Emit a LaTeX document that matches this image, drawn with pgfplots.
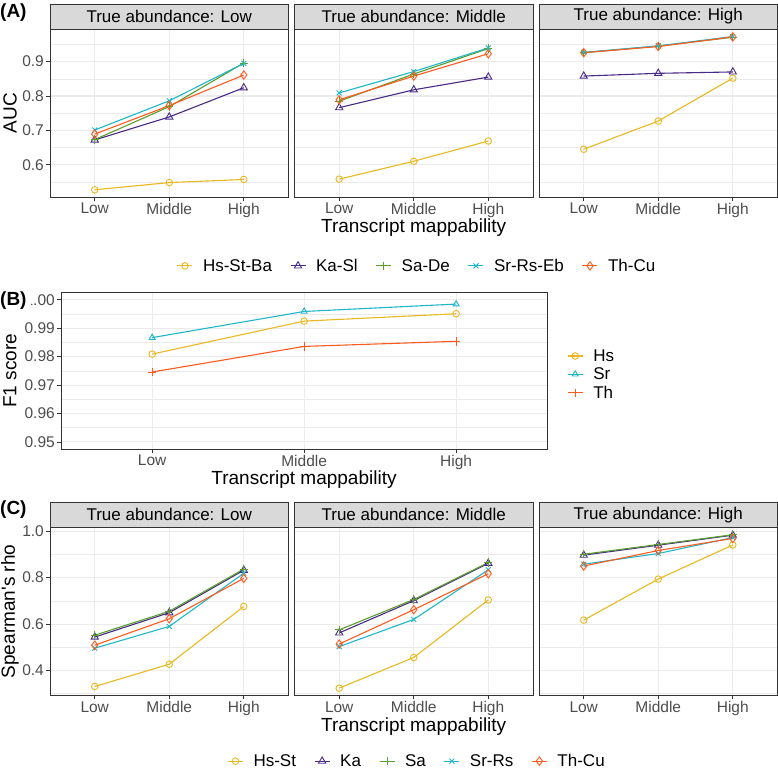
\documentclass[border=0pt]{standalone}
\usepackage{fontspec}
\setmainfont{Liberation Sans}[Ligatures=TeXOff]
\usepackage{pgfplots}
\usepackage{pgfplotstable}
\pgfplotsset{compat=1.18}

\definecolor{cHs}{HTML}{E8B820}
\definecolor{cKa}{HTML}{472A85}
\definecolor{cSa}{HTML}{5C9E2E}
\definecolor{cSr}{HTML}{1FB6C8}
\definecolor{cTh}{HTML}{FF5A1E}
\definecolor{c20}{HTML}{333333}
\definecolor{c30}{HTML}{4D4D4D}
\definecolor{gridc}{HTML}{EBEBEB}
\definecolor{stripc}{HTML}{D9D9D9}

% AUC, panel (A)
\pgfplotstableread{
x Hs Ka Sa Sr Th
1 0.527 0.672 0.673 0.701 0.689
2 0.548 0.739 0.769 0.786 0.772
3 0.557 0.824 0.896 0.895 0.861
}\aucLow
\pgfplotstableread{
x Hs Ka Sa Sr Th
1 0.558 0.766 0.785 0.809 0.789
2 0.610 0.818 0.864 0.871 0.858
3 0.669 0.855 0.938 0.940 0.923
}\aucMid
\pgfplotstableread{
x Hs Ka Sa Sr Th
1 0.645 0.858 0.926 0.927 0.926
2 0.727 0.866 0.945 0.946 0.944
3 0.852 0.870 0.971 0.973 0.972
}\aucHigh
% F1, panel (B)
\pgfplotstableread{
x Hs Sr Th
1 0.9809 0.9867 0.9746
2 0.9925 0.9959 0.9836
3 0.9951 0.9985 0.9854
}\fone
% Spearman, panel (C)
\pgfplotstableread{
x Hs Ka Sa Sr Th
1 0.331 0.544 0.552 0.496 0.509
2 0.427 0.649 0.655 0.590 0.623
3 0.676 0.832 0.837 0.819 0.797
}\rhoLow
\pgfplotstableread{
x Hs Ka Sa Sr Th
1 0.324 0.562 0.575 0.503 0.514
2 0.456 0.701 0.706 0.620 0.662
3 0.704 0.862 0.865 0.834 0.817
}\rhoMid
\pgfplotstableread{
x Hs Ka Sa Sr Th
1 0.617 0.897 0.901 0.858 0.850
2 0.794 0.940 0.943 0.904 0.917
3 0.941 0.983 0.985 0.973 0.969
}\rhoHigh

\pgfplotsset{
  panel/.style={
    scale only axis, xmin=0.4, xmax=3.6,
    xtick={1,2,3}, xticklabels={Low,Middle,High},
    tick pos=left, tick align=outside, major tick length=4pt,
    minor tick length=0pt,
    axis line style={draw=c20, line width=0.8pt},
    tick style={draw=c20, line width=0.8pt},
    xmajorgrids, ymajorgrids, yminorgrids,
    major grid style={draw=gridc, line width=1.1pt},
    minor grid style={draw=gridc, line width=0.55pt},
    tick label style={font=\fontsize{15.5}{18}\selectfont, text=c30, inner sep=2pt},
    /pgf/number format/assume math mode=true,
    legend image code/.code={\draw[mark repeat=2,mark phase=2]
      plot coordinates {(0pt,0pt) (7.5pt,0pt) (15pt,0pt)};},
    legend cell align=left,
  },
  facet/.style={panel, width=238.5pt, height=168pt},
  inner/.style={yticklabels={}, every major y tick/.append style={draw=none}},
  rowlegend/.style={legend style={draw=none, fill=none, inner sep=0pt,
    font=\fontsize{17}{20}\selectfont, legend columns=5,
    nodes={inner sep=2pt},
    /tikz/every odd column/.append style={column sep=8pt},
    /tikz/every even column/.append style={column sep=16pt}}},
  sHs/.style={color=cHs, line width=1.1pt, mark=o, mark size=3.3pt, mark options={solid, line width=0.9pt}},
  sKa/.style={color=cKa, line width=1.1pt, mark=triangle, mark size=4.2pt, mark options={solid, line width=0.9pt}},
  sSa/.style={color=cSa, line width=1.1pt, mark=+, mark size=4.2pt, mark options={solid, line width=1pt}},
  sSr/.style={color=cSr, line width=1.1pt, mark=x, mark size=3.5pt, mark options={solid, line width=0.9pt}},
  sTh/.style={color=cTh, line width=1.1pt, mark=diamond, mark size=4.2pt, mark options={solid, line width=0.9pt}},
}

\newcommand{\fiveseries}[1]{%
  \addplot[sHs] table[x=x,y=Hs]{#1};
  \addplot[sKa] table[x=x,y=Ka]{#1};
  \addplot[sSa] table[x=x,y=Sa]{#1};
  \addplot[sSr] table[x=x,y=Sr]{#1};
  \addplot[sTh] table[x=x,y=Th]{#1};
}
\newcommand{\strip}[2]{%
  \draw[draw=c20, fill=stripc, line width=0.8pt] (#1.north west) rectangle ([yshift=25pt]#1.north east);
  \node[font=\fontsize{17}{20}\selectfont, text=black] at ([yshift=12.5pt]#1.north) {#2};
}

\begin{document}
\begin{tikzpicture}
\useasboundingbox (0pt,0pt) rectangle (778pt,-771pt);

% ---------- (A) AUC ----------
\pgfplotsset{aucy/.style={ymin=0.506, ymax=0.995, ytick={0.6,0.7,0.8,0.9},
  yticklabels={0.6,0.7,0.8,0.9}, minor ytick={0.55,0.65,0.75,0.85,0.95}}}
\begin{axis}[facet, aucy, name=a1, at={(50pt,-29pt)}, anchor=north west]
  \fiveseries{\aucLow}
\end{axis}
\begin{axis}[facet, aucy, inner, rowlegend, name=a2, at={(294.5pt,-29pt)}, anchor=north west,
  legend style={at={(0.514,-0.41)}, anchor=center}]
  \fiveseries{\aucMid}
  \legend{Hs-St-Ba,Ka-Sl,Sa-De,Sr-Rs-Eb,Th-Cu}
\end{axis}
\begin{axis}[facet, aucy, inner, name=a3, at={(539pt,-29pt)}, anchor=north west]
  \fiveseries{\aucHigh}
\end{axis}
\strip{a1}{True abundance: Low}
\strip{a2}{True abundance: Middle}
\strip{a3}{True abundance: High}
\node[font=\fontsize{19}{22}\selectfont, rotate=90] at (10pt,-113pt) {AUC};
\node[font=\fontsize{19}{22}\selectfont] at (413.7pt,-228pt) {Transcript mappability};

% ---------- (B) F1 ----------
\begin{axis}[panel, width=486.3pt, height=156.3pt, at={(61pt,-292.7pt)}, anchor=north west,
  ymin=0.9475, ymax=1.0025, ytick={0.95,0.96,0.97,0.98,0.99,1.00},
  yticklabels={0.95,0.96,0.97,0.98,0.99,1.00},
  minor ytick={0.955,0.965,0.975,0.985,0.995},
  legend style={draw=none, fill=none, inner sep=0pt, font=\fontsize{17}{20}\selectfont,
    at={(1.0405,0.476)}, anchor=west, nodes={inner sep=2pt}, row sep=1pt,
    /tikz/every odd column/.append style={column sep=8pt}}]
  \addplot[sHs] table[x=x,y=Hs]{\fone};
  \addplot[sSr, mark=triangle] table[x=x,y=Sr]{\fone};
  \addplot[sTh, mark=+] table[x=x,y=Th]{\fone};
  \legend{Hs,Sr,Th}
\end{axis}
\node[font=\fontsize{19}{22}\selectfont, rotate=90] at (10pt,-370.8pt) {F1 score};
\node[font=\fontsize{19}{22}\selectfont] at (304pt,-480pt) {Transcript mappability};

% ---------- (C) Spearman ----------
\pgfplotsset{rhoy/.style={ymin=0.293, ymax=1.017, ytick={0.4,0.6,0.8,1.0},
  yticklabels={0.4,0.6,0.8,1.0}, minor ytick={0.3,0.5,0.7,0.9}}}
\begin{axis}[facet, rhoy, name=c1, at={(50pt,-527.3pt)}, anchor=north west]
  \fiveseries{\rhoLow}
\end{axis}
\begin{axis}[facet, rhoy, inner, rowlegend, name=c2, at={(294.5pt,-527.3pt)}, anchor=north west,
  legend style={at={(0.514,-0.392)}, anchor=center}]
  \fiveseries{\rhoMid}
  \legend{Hs-St,Ka,Sa,Sr-Rs,Th-Cu}
\end{axis}
\begin{axis}[facet, rhoy, inner, name=c3, at={(539pt,-527.3pt)}, anchor=north west]
  \fiveseries{\rhoHigh}
\end{axis}
\strip{c1}{True abundance: Low}
\strip{c2}{True abundance: Middle}
\strip{c3}{True abundance: High}
\node[font=\fontsize{19}{22}\selectfont, rotate=90] at (10pt,-611.5pt) {Spearman's rho};
\node[font=\fontsize{19}{22}\selectfont] at (413.7pt,-726.7pt) {Transcript mappability};

% panel tags
\node[font=\bfseries\fontsize{19}{22}\selectfont, anchor=west, inner sep=0pt] at (0pt,-12.5pt) {(A)};
\node[font=\bfseries\fontsize{19}{22}\selectfont, anchor=west, fill=white, inner xsep=0pt, inner ysep=1pt,
  minimum width=31pt, text width=31pt] at (0pt,-301pt) {(B)};
\node[font=\bfseries\fontsize{19}{22}\selectfont, anchor=west, inner sep=0pt] at (0pt,-510pt) {(C)};
\end{tikzpicture}
\end{document}
